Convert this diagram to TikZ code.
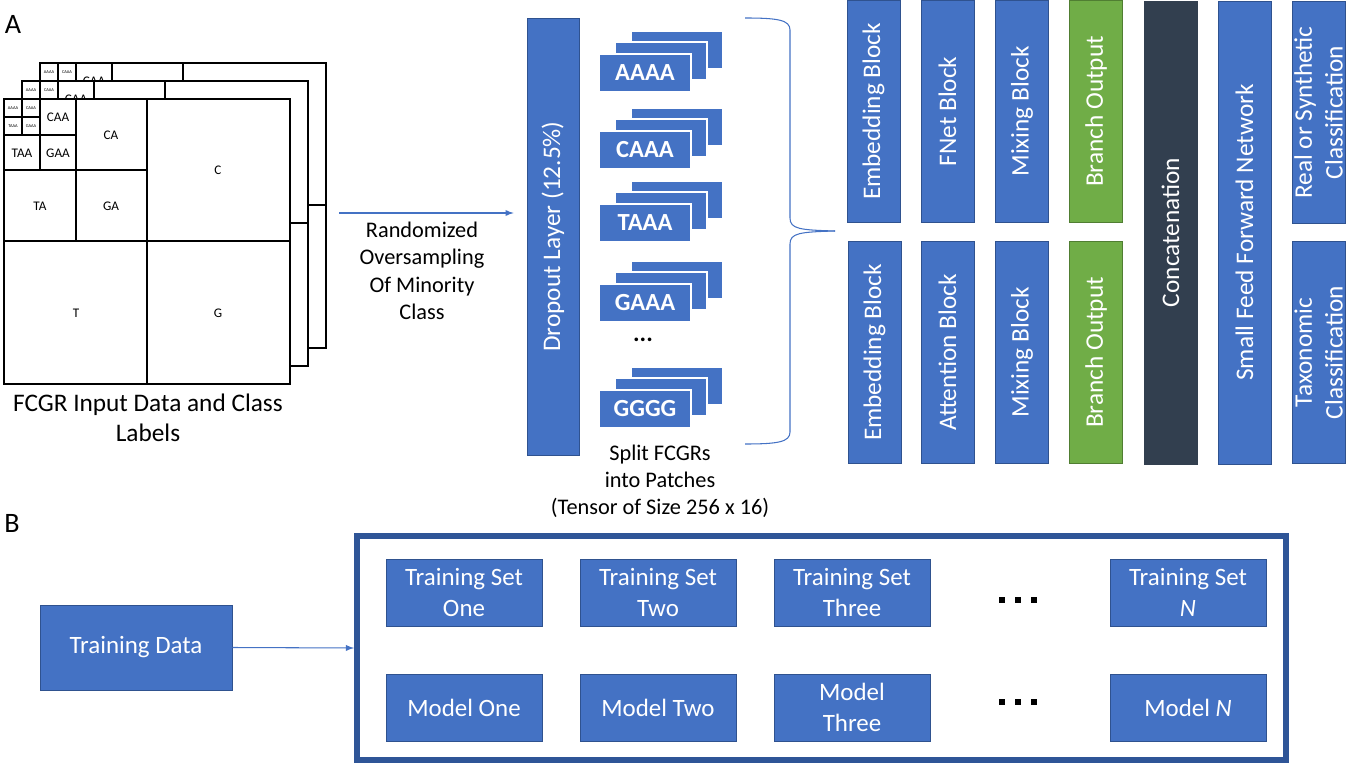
\documentclass[tikz,border=0pt]{standalone}
\usepackage{fontspec}
\setmainfont{Carlito}
\usepackage{tikz}
\usetikzlibrary{arrows}
\usetikzlibrary{positioning}
\definecolor{blockblue}{HTML}{4472C4}
\definecolor{blockline}{HTML}{2F528F}
\definecolor{branchgreen}{HTML}{70AD47}
\definecolor{branchline}{HTML}{507E32}
\definecolor{concatdark}{HTML}{323F4F}
\definecolor{frameblue}{HTML}{2F5597}
\newcommand{\pxu}{0.02cm}
\tikzstyle{arrow} = [draw=blockblue, line width=0.6pt, -latex]
\tikzstyle{gridlbl} = [inner sep=0pt, font=\fontsize{7.5}{8}\selectfont]

\begin{document}
\begin{tikzpicture}[x=0.02cm, y=-0.02cm,
vblock/.style={rectangle, draw=blockline, fill=blockblue, text=white, rotate=90, minimum width=222*\pxu, minimum height=53*\pxu, inner sep=0pt, align=center, font=\fontsize{14.4}{17.5}\selectfont},
branch/.style={vblock, draw=branchline, fill=branchgreen},
concat/.style={vblock, draw=concatdark, fill=concatdark},
patch/.style={rectangle, draw=white, line width=0.6pt, fill=blockblue, text=white, minimum width=92*\pxu, minimum height=38*\pxu, inner sep=0pt, font=\bfseries\fontsize{14}{16}\selectfont},
setbox/.style={rectangle, draw=blockline, fill=blockblue, text=white, minimum width=156*\pxu, minimum height=67*\pxu, inner sep=0pt, align=center, font=\fontsize{14.2}{17.6}\selectfont},
annot/.style={align=center, inner sep=0pt, font=\fontsize{12.7}{15.6}\selectfont},
]
\useasboundingbox (0,0) rectangle (1351,766);

%Panel labels
\node[font=\fontsize{16}{18}\selectfont] (labA) at (13,24) {A};
\node[font=\fontsize{16}{18}\selectfont] (labB) at (12,523) {B};

%FCGR layers
\foreach \s in {36,18,0} {
\begin{scope}[shift={(\s,-\s)}, line width=0.7pt]
\node[draw, fill=white, minimum width=286*\pxu, minimum height=285*\pxu, inner sep=0pt] (fcgr\s) at (147,241.5) {};
\draw (147,99) -- (147,384);
\draw (4,241) -- (290,241);
\draw (76,99) -- (76,241);
\draw (4,170) -- (147,170);
\draw (40,99) -- (40,170);
\draw (4,135) -- (76,135);
\draw (22,99) -- (22,135);
\draw (4,117) -- (40,117);
\foreach \lab/\lx/\ly in {C/218/170, T/76/313, G/218/313, CA/111/135, TA/40/206, GA/111/206, CAA/58/117, TAA/22/153, GAA/58/153}
  \node[gridlbl] (\lab\s) at (\lx,\ly) {\lab};
\foreach \lab/\lx/\ly in {AAAA/13/108, CAAA/31/108, TAAA/13/126, GAAA/31/126}
  \node[gridlbl, font=\fontsize{2.5}{3}\selectfont] (\lab\s) at (\lx,\ly) {\lab};
\end{scope}
}
\node[align=center, font=\fontsize{14.4}{17}\selectfont] (fcgrcap) at (148,418) {FCGR Input Data and Class\\Labels};

%Oversampling
\node[vblock, minimum width=437*\pxu, minimum height=52*\pxu] (dropout) at (553,236.5) {Dropout Layer (12.5\%)};
\coordinate (oversamp) at (339,213);
\draw[arrow, shorten >=0.26cm] (oversamp) -- (oversamp -| dropout.north);
\node[annot] (oversamptxt) at (422,271) {Randomized\\Oversampling\\Of Minority\\Class};

%Patches
\foreach \lab/\yy in {AAAA/54, CAAA/131, TAAA/204, GAAA/284, GGGG/390} {
  \node[patch] (back\lab) at (677,\yy-4) {};
  \node[patch] (mid\lab) at (661,\yy+7) {};
  \node[patch] (\lab) at (645,\yy+19) {\lab};
}
\node[font=\bfseries\fontsize{14}{16}\selectfont] (pdots) at (643,340) {...};
\node[annot, font=\fontsize{12.7}{15.3}\selectfont] (splittxt) at (660,481) {Split FCGRs\\into Patches\\(Tensor of Size 256 x 16)};

%Brace
\coordinate (brtop) at (745,18);
\coordinate (brtip) at (835,231);
\coordinate (brbot) at (745,444);
\draw[blockblue, line width=0.6pt] (brtop) .. controls (778,18) and (790,20) .. (790,30) -- (790,218) .. controls (790,229) and (800,230) .. (brtip);
\draw[blockblue, line width=0.6pt] (brtip) .. controls (800,232) and (790,233) .. (790,244) -- (790,432) .. controls (790,442) and (778,444) .. (brbot);

%Blocks
\node[vblock] (emb1) at (873.5,111.5) {Embedding Block};
\node[vblock] (fnet) at (947.5,111.5) {FNet Block};
\node[vblock] (mix1) at (1022,111.5) {Mixing Block};
\node[branch] (out1) at (1096,111.5) {Branch Output};
\node[vblock] (emb2) at (874.5,352.5) {Embedding Block};
\node[vblock] (attn) at (947.5,352.5) {Attention Block};
\node[vblock] (mix2) at (1022,352.5) {Mixing Block};
\node[branch] (out2) at (1096,352.5) {Branch Output};
\node[concat, minimum width=463*\pxu] (concat) at (1170.5,232.5) {Concatenation};
\node[vblock, minimum width=463*\pxu] (sffn) at (1244.5,232.5) {Small Feed Forward Network};
\node[vblock] (clsreal) at (1318.5,112.5) {Real or Synthetic\\Classification};
\node[vblock] (clstax) at (1318.5,352.5) {Taxonomic\\Classification};

%Ensemble
\node[setbox, minimum width=192*\pxu, minimum height=85*\pxu] (tdata) at (136,647.5) {Training Data};
\node[draw=frameblue, line width=6*\pxu, minimum width=929*\pxu, minimum height=224*\pxu, inner sep=0pt] (ensemble) at (821.5,648) {};
\draw[arrow] (tdata.east) -- (ensemble.west);
\node[setbox] (set1) at (464,592.5) {Training Set\\One};
\node[setbox] (set2) at (658,592.5) {Training Set\\Two};
\node[setbox] (set3) at (852,592.5) {Training Set\\Three};
\node[setbox] (setN) at (1188,592.5) {Training Set\\\textit{N}};
\node[setbox] (mod1) at (464,707.5) {Model One};
\node[setbox] (mod2) at (658,707.5) {Model Two};
\node[setbox] (mod3) at (852,707.5) {Model\\Three};
\node[setbox] (modN) at (1188,707.5) {Model \textit{N}};
\foreach \dx in {-16,0,16} {
  \fill (1018+\dx-3,597) rectangle ++(6,6);
  \fill (1018+\dx-3,699) rectangle ++(6,6);
}

\end{tikzpicture}
\end{document}
